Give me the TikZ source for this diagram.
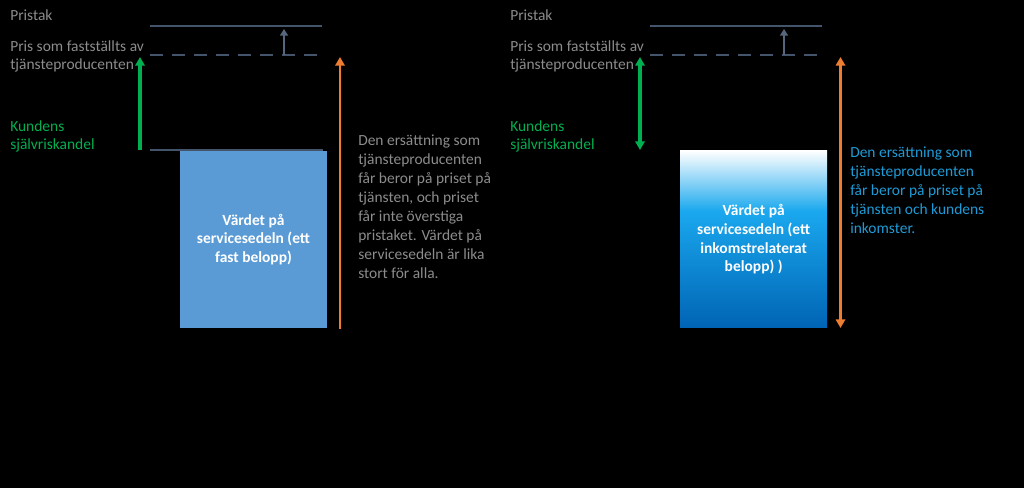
\documentclass[tikz,border=0pt]{standalone}
\usepackage{fontspec}
\setmainfont{Carlito}
\usetikzlibrary{arrows.meta,calc}
\definecolor{txtgray}{HTML}{8C8C8C}
\definecolor{slate}{HTML}{44546A}
\definecolor{slatelt}{HTML}{56667C}
\definecolor{kgreen}{HTML}{00B050}
\definecolor{korange}{HTML}{ED7D31}
\definecolor{boxblue}{HTML}{5B9BD5}
\definecolor{txtblue}{HTML}{1E9BD7}
\definecolor{gcyan}{HTML}{1AA8EE}
\definecolor{gdark}{HTML}{0064B4}
\pgfdeclareverticalshading{boxgrad}{100bp}{color(0bp)=(gdark); color(25bp)=(gdark); color(58bp)=(gcyan); color(75bp)=(white); color(100bp)=(white)}
\tikzset{
  lbl/.style={anchor=north west,inner sep=0pt,align=left,font=\fontsize{11.6pt}{14.2pt}\selectfont},
  level/.style={draw=slate,line width=1.9pt},
  dlevel/.style={draw=slate,line width=1.9pt,dash pattern=on 9.75pt off 6.75pt},
  smallarr/.style={draw=slatelt,line width=1.9pt,-{Triangle[width=6pt,length=5pt]}},
  grarr/.style={draw=kgreen,line width=2.5pt},
  orarr/.style={draw=korange,line width=2.2pt},
  tip/.tip={Triangle[width=7pt,length=6.5pt]},
  boxtext/.style={inner sep=0pt,minimum width=110.25pt,minimum height=132.75pt,align=center,text=white,font=\bfseries\fontsize{11.6pt}{14.1pt}\selectfont}
}
\begin{document}
\begin{tikzpicture}[x=0.75pt,y=-0.75pt]
\fill[black] (0,0) rectangle (1024,488);
\useasboundingbox (0,0) rectangle (1024,488);

% ---------- left panel ----------
\node[lbl,text=txtgray] (pristakL) at (10,9) {Pristak};
\node[lbl,text=txtgray] (prisL) at (10,40) {Pris som fastställts av\\tjänsteproducenten};
\node[lbl,text=kgreen] (kundL) at (10,120) {Kundens\\självriskandel};

\coordinate (topLa) at (150,26);  \coordinate (topLb) at (322,26);
\coordinate (dashLa) at (150,55); \coordinate (dashLb) at (322,55);
\coordinate (botLa) at (150,150); \coordinate (botLb) at (323,150);
\draw[level] (topLa) -- (topLb);
\draw[dlevel] (dashLa) -- (dashLb);
\draw[level] (botLa) -- (botLb);
\coordinate (saLa) at (284,55); \coordinate (saLb) at (284,29);
\draw[smallarr] (saLa) -- (saLb);

\node[boxtext,fill=boxblue] (boxL) at (253.5,239.5) {Värdet på\\servicesedeln (ett\\fast belopp)};

\coordinate (gLa) at (140,150); \coordinate (gLb) at (140,57);
\draw[grarr,-tip] (gLa) -- (gLb);
\coordinate (oLa) at (340,329); \coordinate (oLb) at (340,57);
\draw[orarr,-tip] (oLa) -- (oLb);

\node[lbl,text=txtgray] (descL) at (358,135) {Den ersättning som\\tjänsteproducenten\\får beror på priset på\\tjänsten, och priset\\får inte överstiga\\pristaket. Värdet på\\servicesedeln är lika\\stort för alla.};

% ---------- right panel ----------
\node[lbl,text=txtgray] (pristakR) at (510,9) {Pristak};
\node[lbl,text=txtgray] (prisR) at (510,40) {Pris som fastställts av\\tjänsteproducenten};
\node[lbl,text=kgreen] (kundR) at (510,120) {Kundens\\självriskandel};

\coordinate (topRa) at (650,26);  \coordinate (topRb) at (822,26);
\coordinate (dashRa) at (650,55); \coordinate (dashRb) at (822,55);
\draw[level] (topRa) -- (topRb);
\draw[dlevel] (dashRa) -- (dashRb);
\coordinate (saRa) at (784,55); \coordinate (saRb) at (784,29);
\draw[smallarr] (saRa) -- (saRb);

\node[boxtext,shading=boxgrad] (boxR) at (753.7,239.3) {Värdet på\\servicesedeln (ett\\inkomstrelaterat\\belopp) )};

\coordinate (gRa) at (640,150); \coordinate (gRb) at (640,57);
\draw[grarr,tip-tip] (gRa) -- (gRb);
\coordinate (oRa) at (840.5,328); \coordinate (oRb) at (840.5,57);
\draw[orarr,tip-tip] (oRa) -- (oRb);

\node[lbl,text=txtblue] (descR) at (850,147) {Den ersättning som\\tjänsteproducenten\\får beror på priset på\\tjänsten och kundens\\inkomster.};
\end{tikzpicture}
\end{document}
